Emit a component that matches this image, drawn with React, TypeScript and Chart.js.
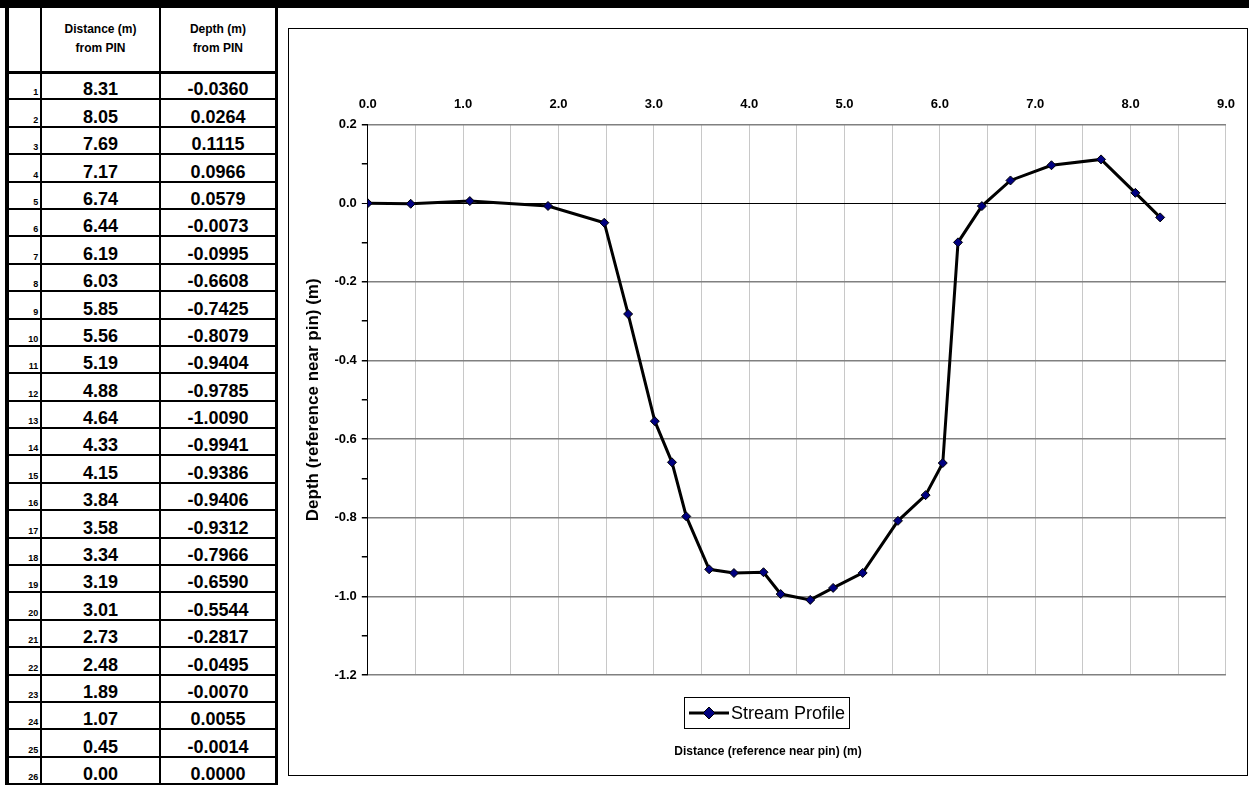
import { useEffect, useRef } from "react";
import { Chart, registerables } from "chart.js";

Chart.register(...registerables);

const distances = [8.31, 8.05, 7.69, 7.17, 6.74, 6.44, 6.19, 6.03, 5.85, 5.56, 5.19, 4.88, 4.64, 4.33, 4.15, 3.84, 3.58, 3.34, 3.19, 3.01, 2.73, 2.48, 1.89, 1.07, 0.45, 0.0];
const depths = [-0.036, 0.0264, 0.1115, 0.0966, 0.0579, -0.0073, -0.0995, -0.6608, -0.7425, -0.8079, -0.9404, -0.9785, -1.009, -0.9941, -0.9386, -0.9406, -0.9312, -0.7966, -0.659, -0.5544, -0.2817, -0.0495, -0.007, 0.0055, -0.0014, 0.0];

const FONT = "'Liberation Sans', Arial, sans-serif";

export default function App() {
  const canvasRef = useRef<HTMLCanvasElement | null>(null);

  useEffect(() => {
    document.body.style.margin = "0";
    if (!canvasRef.current) return;
    const chart = new Chart(canvasRef.current, {
      type: "line",
      data: {
        datasets: [
          {
            label: "Stream Profile",
            data: distances.map((d, i) => ({ x: d, y: depths[i] })),
            borderColor: "#000",
            borderWidth: 3,
            pointStyle: "rectRot",
            pointRadius: 4.5,
            pointBackgroundColor: "#000080",
            pointBorderColor: "#000",
            pointBorderWidth: 1,
            tension: 0,
          },
        ],
      },
      options: {
        animation: false,
        responsive: false,
        layout: { padding: { top: 56, right: 8, bottom: 100, left: 10 } },
        plugins: { legend: { display: false }, tooltip: { enabled: false } },
        scales: {
          x: {
            type: "linear",
            position: "top",
            min: 0,
            max: 9,
            border: { display: false },
            grid: {
              color: (c: any) => (c.tick && c.tick.value === 0 ? "rgba(0,0,0,0)" : "#c8c8c8"),
              drawTicks: false,
            },
            ticks: {
              stepSize: 0.5,
              padding: 12,
              maxRotation: 0,
              color: "#000",
              font: { family: FONT, size: 13, weight: "bold" },
              callback: (v: any) => (Math.abs(v - Math.round(v)) < 1e-6 ? Number(v).toFixed(1) : ""),
            },
          },
          y: {
            min: -1.2,
            max: 0.2,
            border: { display: true, color: "#000", width: 1 },
            grid: {
              color: (c: any) => {
                const v = c.tick ? c.tick.value : 1;
                if (Math.abs(v) < 1e-6) return "#000";
                return Math.abs(Math.round(v * 5) - v * 5) < 1e-6 ? "#808080" : "rgba(0,0,0,0)";
              },
              lineWidth: (c: any) => (c.tick && Math.abs(c.tick.value) < 1e-6 ? 1 : 1.5),
              tickColor: "#000",
              tickLength: 6,
            },
            ticks: {
              stepSize: 0.1,
              padding: 5,
              color: "#000",
              font: { family: FONT, size: 13, weight: "bold" },
              callback: (v: any) => {
                const n = Number(v);
                return Math.abs(Math.round(n * 5) - n * 5) < 1e-6 ? n.toFixed(1) : "";
              },
            },
            title: {
              display: true,
              text: "Depth (reference near pin) (m)",
              color: "#000",
              font: { family: FONT, size: 17, weight: "bold" },
              padding: { bottom: 6 },
            },
          },
        },
      },
    });
    return () => chart.destroy();
  }, []);

  const cell: React.CSSProperties = {
    borderBottom: "2px solid #000",
    borderRight: "2px solid #000",
    padding: 0,
    textAlign: "center",
    fontWeight: "bold",
    fontSize: 18,
    lineHeight: "17px",
    verticalAlign: "bottom",
  };

  return (
    <div style={{ position: "relative", width: 1249, height: 785, background: "#fff", fontFamily: FONT, overflow: "hidden" }}>
      <div style={{ position: "absolute", left: 0, top: 0, width: 1249, height: 8, background: "#000" }} />
      <table
        style={{
          position: "absolute",
          left: 5,
          top: 8,
          borderCollapse: "collapse",
          borderLeft: "4px solid #000",
          borderRight: "3px solid #000",
          width: 273,
          tableLayout: "fixed",
        }}
      >
        <colgroup>
          <col style={{ width: 34 }} />
          <col style={{ width: 118 }} />
          <col style={{ width: 116 }} />
        </colgroup>
        <tbody>
          <tr style={{ height: 64 }}>
            <td style={{ ...cell, borderBottom: "3px solid #000" }} />
            <td style={{ ...cell, fontSize: 12, lineHeight: "19px", verticalAlign: "middle", borderBottom: "3px solid #000" }}>
              Distance (m)
              <br />
              from PIN
            </td>
            <td style={{ ...cell, fontSize: 12, lineHeight: "19px", verticalAlign: "middle", borderBottom: "3px solid #000" }}>
              Depth (m)
              <br />
              from PIN
            </td>
          </tr>
          {distances.map((d, i) => (
            <tr key={i} style={{ height: 27.4 }}>
              <td style={{ ...cell, fontSize: 9, textAlign: "right", paddingRight: 2, lineHeight: "12px" }}>{i + 1}</td>
              <td style={cell}>{d.toFixed(2)}</td>
              <td style={cell}>{depths[i].toFixed(4)}</td>
            </tr>
          ))}
        </tbody>
      </table>
      <div style={{ position: "absolute", left: 288, top: 28, width: 958, height: 746, border: "1px solid #000" }}>
        <canvas ref={canvasRef} width={958} height={746} />
        <div
          style={{
            position: "absolute",
            left: 395,
            top: 668,
            height: 30,
            padding: "0 4px",
            border: "1px solid #000",
            display: "flex",
            alignItems: "center",
            fontSize: 18,
          }}
        >
          <svg width={40} height={14} style={{ marginRight: 2 }}>
            <line x1={0} y1={7} x2={40} y2={7} stroke="#000" strokeWidth={3} />
            <polygon points="20,1 26,7 20,13 14,7" fill="#000080" stroke="#000" strokeWidth={1} />
          </svg>
          Stream Profile
        </div>
        <div style={{ position: "absolute", left: 0, width: 958, top: 715, textAlign: "center", fontSize: 12, fontWeight: "bold" }}>
          Distance (reference near pin) (m)
        </div>
      </div>
    </div>
  );
}
